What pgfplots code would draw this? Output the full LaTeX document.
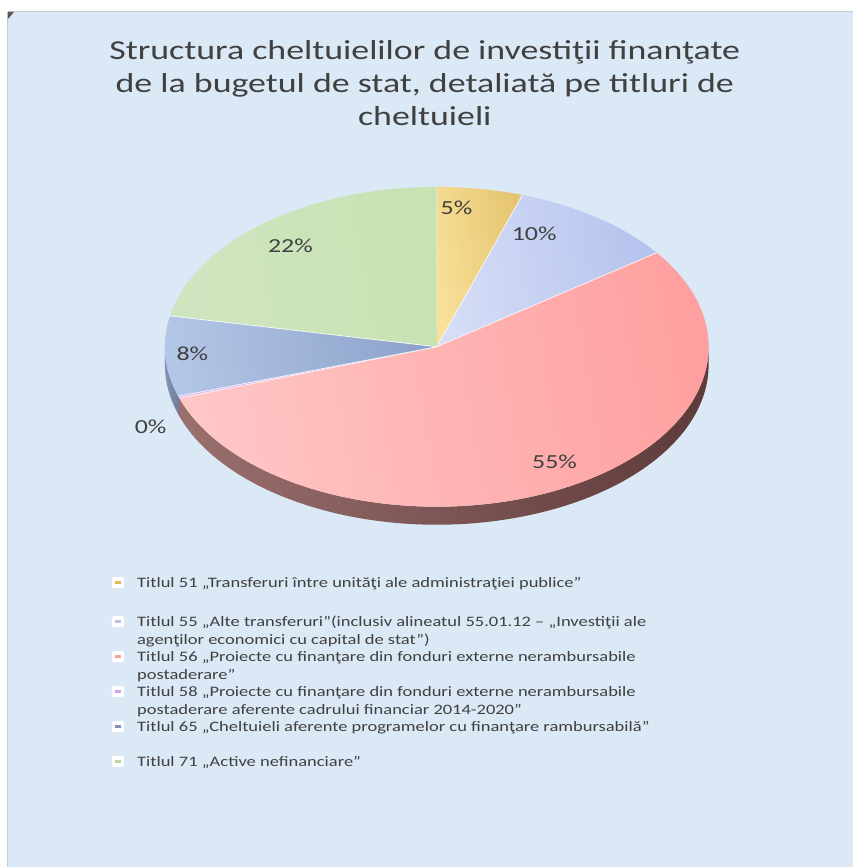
\documentclass[border=0pt]{standalone}
\usepackage{graphicx}
\usepackage{pgfplots}
\pgfplotsset{compat=1.18}
\usepackage{pgfplotstable}
\usepackage{fontspec}
\setmainfont{Carlito}

\definecolor{bg}{HTML}{DBE8F5}
\definecolor{txt}{HTML}{404040}
% slice colours (left / right of gradient)
\definecolor{slL0}{HTML}{F8E19A}\definecolor{slR0}{HTML}{E6C46E}
\definecolor{slL1}{HTML}{D6DDF6}\definecolor{slR1}{HTML}{B4C3EE}
\definecolor{slL2}{HTML}{FFC6C6}\definecolor{slR2}{HTML}{FF9E9E}
\definecolor{slL3}{HTML}{DDB6EE}\definecolor{slR3}{HTML}{C79BE0}
\definecolor{slL4}{HTML}{B3C6E6}\definecolor{slR4}{HTML}{8DA2CB}
\definecolor{slL5}{HTML}{CFE5C0}\definecolor{slR5}{HTML}{C8E2B3}
% rim colours
\definecolor{rmL0}{HTML}{A08040}\definecolor{rmR0}{HTML}{806020}
\definecolor{rmL1}{HTML}{7F8AB0}\definecolor{rmR1}{HTML}{6A7598}
\definecolor{rmL2}{HTML}{9A706E}\definecolor{rmR2}{HTML}{5E3A3A}
\definecolor{rmL3}{HTML}{8A7098}\definecolor{rmR3}{HTML}{7A6088}
\definecolor{rmL4}{HTML}{8494B4}\definecolor{rmR4}{HTML}{6E7F9E}
\definecolor{rmL5}{HTML}{8AA070}\definecolor{rmR5}{HTML}{7A9060}
% legend colours
\definecolor{lg0}{HTML}{E2B752}
\definecolor{lg1}{HTML}{B3C1EC}
\definecolor{lg2}{HTML}{FF9B9B}
\definecolor{lg3}{HTML}{D2A4EA}
\definecolor{lg4}{HTML}{8090B8}
\definecolor{lg5}{HTML}{B6D99E}

% value = share of each title, pct = printed label, lr/da = label radius factor and angle shift
\pgfplotstableread{
code value pct lr da
51 5.1 5 0.87 4.4
55 9.9 10 0.79 9.2
56 54.8 55 0.84 3.7
58 0.2 0 1.165 7.0
65 8.1 8 0.90 -0.6
71 21.9 22 0.83 1.0
}\piedata

\def\cx{437}\def\cy{520}\def\rx{272}\def\ry{160}\def\dep{18}
\newcommand\hs[1]{\scalebox{1.3}[1]{#1}}
\newcommand\legfont{\fontsize{14.5}{17.5}\selectfont}

\begin{document}
\begin{tikzpicture}[x=1bp,y=1bp]
\pgfplotstablegetrowsof{\piedata}\pgfmathtruncatemacro\N{\pgfplotsretval-1}
\xdef\tot{0}
\foreach \i in {0,...,\N}{\pgfplotstablegetelem{\i}{value}\of\piedata
  \pgfmathsetmacro\t{\tot+\pgfplotsretval}\xdef\tot{\t}}
\xdef\cum{90}
\foreach \i in {0,...,\N}{%
  \pgfplotstablegetelem{\i}{value}\of\piedata
  \pgfmathsetmacro\e{\cum-\pgfplotsretval/\tot*360}%
  \pgfmathsetmacro\lo{max(\e,-180)}\pgfmathsetmacro\hi{min(\cum,0)}\pgfmathsetmacro\lo{min(\lo,\hi)}%
  \pgfplotstablegetelem{\i}{da}\of\piedata
  \pgfmathsetmacro\m{(\cum+\e)/2+\pgfplotsretval}%
  \pgfplotstablegetelem{\i}{lr}\of\piedata
  \pgfmathsetmacro\lx{\cx+\pgfplotsretval*\rx*cos(\m)}%
  \pgfmathsetmacro\ly{\cy+\pgfplotsretval*\ry*sin(\m)}%
  \expandafter\xdef\csname ps\i\endcsname{\cum}%
  \expandafter\xdef\csname pe\i\endcsname{\e}%
  \expandafter\xdef\csname rlo\i\endcsname{\lo}%
  \expandafter\xdef\csname rhi\i\endcsname{\hi}%
  \expandafter\xdef\csname plx\i\endcsname{\lx}%
  \expandafter\xdef\csname ply\i\endcsname{\ly}%
  \pgfplotstablegetelem{\i}{pct}\of\piedata
  \expandafter\xdef\csname pp\i\endcsname{\pgfplotsretval}%
  \xdef\cum{\e}%
}
% background
\fill[white] (0,0) rectangle (853,867);
\fill[bg] (8,0) rectangle (853,855);
\draw[gray!40,line width=1bp] (8,855.5) -- (853,855.5);
\draw[gray!40,line width=1bp] (7.5,0) -- (7.5,855);
\fill[gray!70!black] (8,855) -- (14,855) -- (8,848) -- cycle;

\begin{axis}[x=1bp,y=1bp,xmin=0,xmax=853,ymin=0,ymax=867,
  hide axis, clip=false, at={(0,0)}, anchor=south west]
% rims
\pgfplotsinvokeforeach{0,...,5}{
  \path[left color=rmL#1, right color=rmR#1]
   (axis cs:{\cx+\rx*cos(\csname rhi#1\endcsname)},{\cy+\ry*sin(\csname rhi#1\endcsname)})
   arc[start angle=\csname rhi#1\endcsname, end angle=\csname rlo#1\endcsname, x radius=\rx bp, y radius=\ry bp]
   -- ++(0bp,-\dep bp)
   arc[start angle=\csname rlo#1\endcsname, end angle=\csname rhi#1\endcsname, x radius=\rx bp, y radius=\ry bp]
   -- cycle;
}
% top surfaces
\pgfplotsinvokeforeach{0,...,5}{
  \path[left color=slL#1, right color=slR#1, shading angle=100]
   (axis cs:\cx,\cy) --
   (axis cs:{\cx+\rx*cos(\csname ps#1\endcsname)},{\cy+\ry*sin(\csname ps#1\endcsname)})
   arc[start angle=\csname ps#1\endcsname, end angle=\csname pe#1\endcsname, x radius=\rx bp, y radius=\ry bp]
   -- cycle;
  \draw[white,line width=0.8bp,opacity=0.8]
   (axis cs:\cx,\cy) --
   (axis cs:{\cx+\rx*cos(\csname ps#1\endcsname)},{\cy+\ry*sin(\csname ps#1\endcsname)});
}
% data labels
\pgfplotsinvokeforeach{0,...,5}{
  \node[text=txt,font=\fontsize{20}{24}\selectfont] at (axis cs:\csname plx#1\endcsname,\csname ply#1\endcsname) {\hs{\csname pp#1\endcsname\%}};
}
\end{axis}
% title
\node[text=txt,inner sep=0pt,anchor=north] at (425,831.5)
  {\fontsize{27.5}{33.5}\selectfont\scalebox{1.31}[1]{\begin{tabular}{@{}c@{}}Structura cheltuielilor de investiţii finanţate\\de la bugetul de stat, detaliată pe titluri de\\cheltuieli\end{tabular}}};
% legend (markers + entries)
\foreach \c/\y in {lg0/284, lg1/245, lg2/210, lg3/175, lg4/140, lg5/105}{
  \fill[white,rounded corners=1.5bp] (112,\y-5.5) rectangle (124,\y+5.5);
  \fill[\c] (115,\y-1.2) rectangle (121,\y+1.2);
}
\foreach \y/\t in {284/{Titlul 51 „Transferuri între unităţi ale administraţiei publice”},
  245/{Titlul 55 „Alte transferuri”(inclusiv alineatul 55.01.12 – „Investiţii ale},
  227/{agenţilor economici cu capital de stat”)},
  210/{Titlul 56 „Proiecte cu finanţare din fonduri externe nerambursabile},
  192/{postaderare”},
  175/{Titlul 58 „Proiecte cu finanţare din fonduri externe nerambursabile},
  157/{postaderare aferente cadrului financiar 2014-2020”},
  140/{Titlul 65 „Cheltuieli aferente programelor cu finanţare rambursabilă”},
  105/{Titlul 71 „Active nefinanciare”}}{
  \node[text=txt,inner sep=0pt,anchor=base west,font=\legfont] at (137,\y-4.5) {\scalebox{1.28}[1]{\t}};
}
\useasboundingbox (0,0) rectangle (853,867);
\end{tikzpicture}
\end{document}
